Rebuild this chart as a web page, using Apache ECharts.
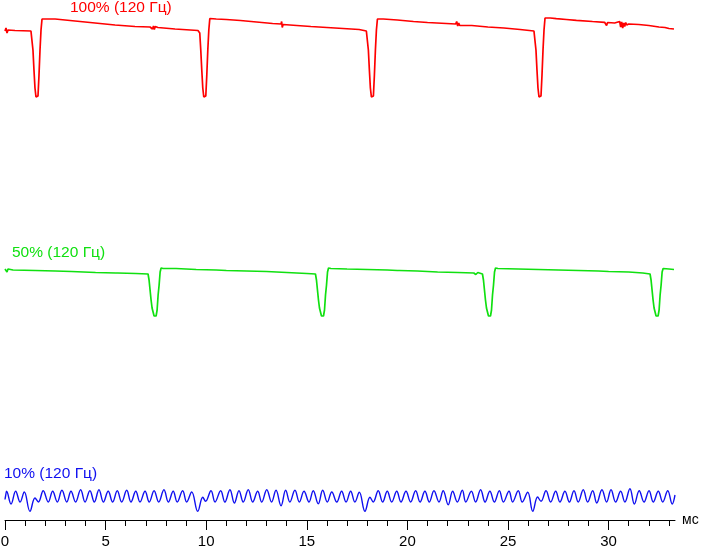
<!DOCTYPE html>
<html>
<head>
<meta charset="utf-8">
<script src="https://cdn.jsdelivr.net/npm/echarts@6/dist/echarts.min.js"></script>
<style>
html,body{margin:0;padding:0;background:#fff;}
#chart{width:703px;height:548px;}
</style>
</head>
<body>
<div id="chart"></div>
<script>
// ---- data (time in ms, signal level in arbitrary units) ----
const seriesNames = ['100% (120 Гц)', '50% (120 Гц)', '10% (120 Гц)'];
const majorTicks = [0, 5, 10, 15, 20, 25, 30];
const minorTicks = [0,1,2,3,4,5,6,7,8,9,10,11,12,13,14,15,16,17,18,19,20,21,22,23,24,25,26,27,28,29,30,31,32,33];
const axisMin = 0;
const axisMax = 33.3;
const axisUnit = 'мс';

const red100 = [
 [0,489],[0.05,492],[0.1,487],[0.15,490],[0.5,489.5],[1.29,489],
 [1.34,487],[1.39,470],[1.44,450],[1.49,432],[1.54,423],[1.59,421],[1.64,424],[1.69,445],[1.74,470],[1.79,490],[1.84,501],
 [2.49,501],[3.48,499],[3.98,498],[3.99,496.5],[4.02,498],[4.97,496],[5.47,495],[5.5,497],[5.52,494],[5.55,495],[6.46,493.5],[7.21,493],
 [7.3,494.5],[7.33,491],[7.38,494],[7.42,490.5],[7.47,493.5],[7.52,491.5],[7.6,492.5],[8.45,491],[9.59,489.5],
 [9.63,489],[9.68,487],[9.73,470],[9.78,450],[9.83,432],[9.88,423],[9.93,421],[9.98,424],[10.03,445],[10.08,470],[10.13,490],[10.18,501.5],
 [10.5,501],[11.0,500.5],[11.7,499.5],[12.5,498],[13.3,496.5],[13.72,496],[13.75,498.5],[13.78,492.5],[13.82,495.5],[14.5,494.5],[15.2,493.5],
 [16.0,492.5],[16.8,491.5],[17.6,490.5],[17.96,489],
 [18.01,487],[18.06,470],[18.11,450],[18.16,432],[18.21,423],[18.26,421],[18.31,424],[18.36,445],[18.41,470],[18.46,490],[18.51,501],
 [18.8,501],[19.5,500],[20.3,498.5],[21.0,497.5],[22.4,496],[22.45,498.5],[22.5,494],[22.55,497],[22.6,494.5],[23.2,494.5],[24.0,493],
 [24.8,492],[25.6,490.5],[26.29,489],
 [26.34,487],[26.39,470],[26.44,450],[26.49,432],[26.54,423],[26.59,421],[26.64,424],[26.69,445],[26.74,470],[26.79,490],[26.84,502],
 [27.1,502],[27.4,501.3],[27.9,500.5],[28.4,499.7],[29.2,498.5],[29.8,497.7],[29.85,499.5],[29.9,494.5],[29.95,497.5],[30.3,497],
 [30.55,498.5],[30.6,493],[30.65,498],[30.7,492],[30.75,497],[30.8,493.5],[30.85,497.5],[30.9,495],[31.0,496],[31.5,495.5],[32.0,494.5],
 [32.5,493],[32.8,492.5],[33.0,491.5],[33.25,491]
];

const green50 = [
 [0,251],[0.05,253],[0.1,248],[0.15,251],[0.4,250],[1.5,249.5],[2.5,249],[3.3,248.5],[3.32,246.5],[3.35,248.5],[4.5,247.5],[5.5,247],
 [5.55,245],[5.6,247],[6.5,246.5],[7.11,246],
 [7.16,240],[7.21,230],[7.26,220],[7.31,212],[7.36,208],[7.41,204],[7.46,203.5],[7.51,204],[7.56,210],[7.61,225],[7.66,235],[7.71,248],
 [7.76,252],[7.81,253.5],[7.86,251.5],[7.91,252.5],
 [8.5,251.5],[9.5,250.5],[10.5,250],[11.0,249.5],[11.03,247.5],[11.06,249.5],[12.0,249],[13.0,248.5],[14.0,247.5],[15.0,246.5],[15.43,246],
 [15.48,240],[15.53,230],[15.58,220],[15.63,212],[15.68,208],[15.73,204],[15.78,203.5],[15.83,204],[15.88,210],[15.93,225],[15.98,235],
 [16.03,248],[16.08,252],[16.13,253],[16.2,251.5],
 [17.0,251],[18.0,250.5],[19.0,250],[19.5,249.5],[19.55,247.5],[19.6,249.5],[20.5,249],[21.5,248],[22.5,247.5],[23.3,247],[23.4,245.5],
 [23.5,247.5],[23.73,246],
 [23.78,240],[23.83,230],[23.88,220],[23.93,212],[23.98,208],[24.03,204],[24.08,203.5],[24.13,204],[24.18,210],[24.23,225],[24.28,235],
 [24.33,248],[24.38,252],[24.43,253],[24.5,251.5],
 [25.5,251],[26.5,250.5],[27.5,250],[28.5,249.5],[29.5,249],[30.0,248.5],[30.03,246.5],[30.06,248.5],[31.0,248],[31.7,247],[32.06,246],
 [32.11,240],[32.16,230],[32.21,220],[32.26,212],[32.31,208],[32.36,204],[32.41,203.5],[32.46,204],[32.51,210],[32.56,225],[32.61,235],
 [32.66,248],[32.71,251.5],[33.0,251],[33.25,250.5]
];

const blue10 = [
 [0,20.5],[0.03,24],[0.08,28.7],[0.30,16],[0.53,28.7],[0.75,18],[0.96,28],[1.24,8.7],[1.49,22],[1.66,18],[1.90,29.3],[2.15,18],
 [2.37,28.7],[2.60,18],[2.83,29.7],[3.07,18],[3.28,28.7],[3.51,18],[3.76,30.3],[3.98,18],[4.22,29.3],[4.44,18],[4.67,30.3],[4.89,18],
 [5.13,28.7],[5.35,18],[5.58,29.3],[5.80,18],[6.05,29.7],[6.26,18],[6.50,28.7],[6.71,18],[6.96,28.7],[7.17,18],[7.41,29.3],[7.64,18],
 [7.90,30.3],[8.12,18],[8.36,28.7],[8.56,18],[8.83,29.3],[9.03,18],[9.28,28],[9.58,8.7],[9.83,22.7],[9.97,18.7],[10.24,29.3],[10.44,18],
 [10.72,29.3],[10.93,18],[11.18,30.3],[11.40,17],[11.63,29.3],[11.84,18],[12.09,30.3],[12.31,18],[12.56,28.7],[12.76,18],[13.01,30.3],
 [13.25,18],[13.47,29.7],[13.72,14.3],[13.95,29.7],[14.16,18],[14.41,29.7],[14.63,18],[14.86,28.7],[15.11,18],[15.32,29.3],[15.57,16.3],
 [15.79,29.7],[16.02,18],[16.24,28],[16.49,18],[16.73,28.7],[16.95,18],[17.18,28.7],[17.39,18],[17.61,27.7],[17.89,8.7],[18.14,22.7],
 [18.30,18],[18.55,29.3],[18.77,18],[19.00,28.7],[19.22,18],[19.47,28.7],[19.68,18],[19.93,28.7],[20.16,18],[20.41,29.3],[20.63,18],
 [20.87,28.7],[21.09,18],[21.32,29.3],[21.57,18],[21.78,29.3],[22.03,15.3],[22.25,28.7],[22.48,18],[22.73,29.7],[22.90,18],[23.18,28.7],
 [23.39,18],[23.64,30.3],[23.86,18],[24.10,28.7],[24.32,18],[24.57,29.3],[24.77,18],[25.05,28.7],[25.23,18],[25.51,29.3],[25.71,18],
 [25.98,27.7],[26.23,8.7],[26.47,23],[26.64,18.7],[26.89,29.3],[27.12,18],[27.37,28.7],[27.58,18],[27.83,28.7],[28.05,18],[28.28,29.3],
 [28.49,18],[28.74,30.3],[28.96,18],[29.21,29.3],[29.41,17],[29.67,30.3],[29.90,18],[30.12,30.3],[30.35,18],[30.60,28.7],[30.81,18],
 [31.06,31.3],[31.28,16],[31.52,29.3],[31.76,18],[32.01,29.3],[32.22,18],[32.47,28.7],[32.69,18],[32.94,29.3],[33.16,16],[33.3,25]
];

// ---- chart ----
const FONT = '"Liberation Sans", Arial, sans-serif';
const colors = ['#ff0000', '#10e010', '#1010f0'];
const chart = echarts.init(document.getElementById('chart'), null, {renderer: 'canvas'});

chart.setOption({
  animation: false,
  backgroundColor: '#ffffff',
  title: [
    {text: seriesNames[0], left: 70, top: 0, padding: 0,
     textStyle: {color: colors[0], fontSize: 15.5, fontWeight: 'normal', fontFamily: FONT}},
    {text: seriesNames[1], left: 12, top: 245, padding: 0,
     textStyle: {color: colors[1], fontSize: 15.5, fontWeight: 'normal', fontFamily: FONT}},
    {text: seriesNames[2], left: 4, top: 466, padding: 0,
     textStyle: {color: colors[2], fontSize: 15.5, fontWeight: 'normal', fontFamily: FONT}}
  ],
  grid: {left: 5, right: 28, top: 0, bottom: 28, containLabel: false, outerBoundsMode: 'none'},
  xAxis: [
    {
      type: 'value', min: axisMin, max: axisMax, position: 'bottom',
      name: axisUnit, nameLocation: 'end', nameGap: 7,
      nameTextStyle: {color: '#000', fontSize: 14, fontFamily: FONT},
      axisLine: {show: true, onZero: false, lineStyle: {color: '#000', width: 1}},
      axisTick: {show: true, customValues: majorTicks, length: 10, lineStyle: {color: '#000', width: 1}},
      axisLabel: {show: true, customValues: majorTicks, margin: 14, color: '#000', fontSize: 15, fontFamily: FONT},
      splitLine: {show: false}
    },
    {
      type: 'value', min: axisMin, max: axisMax, position: 'bottom', gridIndex: 0,
      axisLine: {show: false, onZero: false},
      axisTick: {show: true, customValues: minorTicks, length: 6, lineStyle: {color: '#000', width: 1}},
      axisLabel: {show: false},
      splitLine: {show: false}
    }
  ],
  yAxis: {type: 'value', min: 0, max: 520, show: false, splitLine: {show: false}},
  series: [
    {name: seriesNames[0], type: 'line', data: red100, xAxisIndex: 0, showSymbol: false, symbol: 'none',
     lineStyle: {color: colors[0], width: 1.7}},
    {name: seriesNames[1], type: 'line', data: green50, xAxisIndex: 0, showSymbol: false, symbol: 'none',
     lineStyle: {color: colors[1], width: 1.7}},
    {name: seriesNames[2], type: 'line', data: blue10, xAxisIndex: 0, showSymbol: false, symbol: 'none', smooth: 0.4,
     lineStyle: {color: colors[2], width: 1.4}}
  ]
});
</script>
</body>
</html>
